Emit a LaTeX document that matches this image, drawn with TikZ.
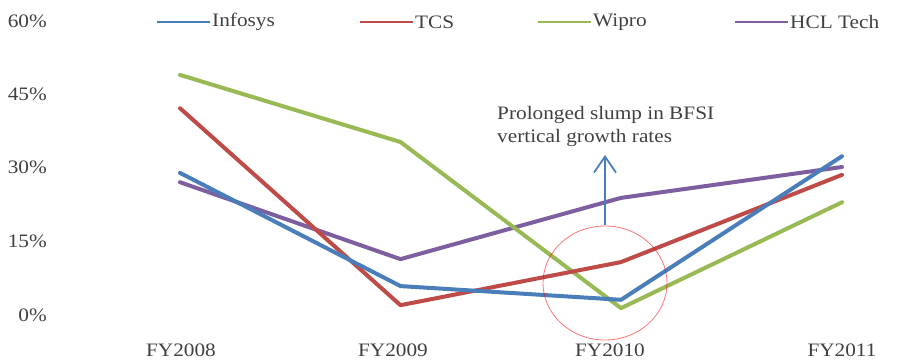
\documentclass[tikz,border=0pt]{standalone}
\usepackage{fontspec}
\setmainfont[FakeStretch=1.12]{Liberation Serif}
\usetikzlibrary{arrows.meta}
\definecolor{txt}{HTML}{404040}
\definecolor{cinf}{HTML}{4A7EBB}
\definecolor{ctcs}{HTML}{BE4B48}
\definecolor{cwip}{HTML}{98B954}
\definecolor{chcl}{HTML}{7D5FA0}
\tikzset{
  series/.style={line width=4pt, line join=round, line cap=round},
  legline/.style={line width=2.6pt},
  lbl/.style={text=txt, font=\fontsize{19}{22}\selectfont, inner sep=0pt},
  ylbl/.style={lbl, anchor=east},
  xlbl/.style={lbl, anchor=center},
}
\begin{document}
\begin{tikzpicture}[x=1pt,y=-1pt]
\useasboundingbox (0,0) rectangle (898,363);
% y axis labels
\node[ylbl] (y60) at (47,21) {60\%};
\node[ylbl] (y45) at (47,94) {45\%};
\node[ylbl] (y30) at (47,167) {30\%};
\node[ylbl] (y15) at (47,241) {15\%};
\node[ylbl] (y0) at (47,315) {0\%};
% x axis labels
\node[xlbl] (x8) at (181,350) {FY2008};
\node[xlbl] (x9) at (393,350) {FY2009};
\node[xlbl] (x10) at (610,350) {FY2010};
\node[xlbl] (x11) at (842,350) {FY2011};
% data points
\foreach \n/\a/\b/\c/\d in {I/29/5.9/3.1/32.4, T/42.2/2.0/10.8/28.6, W/49/35.3/1.4/23, H/27.1/11.4/23.9/30.2}{
  \coordinate (\n1) at (180,{315-4.9*\a});
  \coordinate (\n2) at (400.5,{315-4.9*\b});
  \coordinate (\n3) at (621,{315-4.9*\c});
  \coordinate (\n4) at (842,{315-4.9*\d});
}
\draw[series, chcl] (H1) -- (H2) -- (H3) -- (H4);
\draw[series, cwip] (W1) -- (W2) -- (W3) -- (W4);
\draw[series, ctcs] (T1) -- (T2) -- (T3) -- (T4);
\draw[series, cinf] (I1) -- (I2) -- (I3) -- (I4);
% legend
\coordinate (l1a) at (157,22); \coordinate (l1b) at (210,22);
\draw[legline, cinf] (l1a) -- (l1b);
\node[lbl, anchor=west] (leg1) at (212,22) {Infosys};
\coordinate (l2a) at (360,22); \coordinate (l2b) at (413,22);
\draw[legline, ctcs] (l2a) -- (l2b);
\node[lbl, anchor=west] (leg2) at (415,22) {TCS};
\coordinate (l3a) at (538,22); \coordinate (l3b) at (591,22);
\draw[legline, cwip] (l3a) -- (l3b);
\node[lbl, anchor=west] (leg3) at (593,22) {Wipro};
\coordinate (l4a) at (735,22); \coordinate (l4b) at (788,22);
\draw[legline, chcl] (l4a) -- (l4b);
\node[lbl, anchor=west] (leg4) at (790,22) {HCL Tech};
% annotation
\node[lbl, anchor=north west, align=left, font=\fontsize{19}{23}\selectfont] (note) at (497,106) {Prolonged slump in BFSI\\vertical growth rates};
\draw[red, opacity=0.55, line width=0.8pt] (605,283) ellipse [x radius=62pt, y radius=57pt];
\coordinate (arrS) at (605,225);
\coordinate (arrE) at (605,155);
\draw[cinf, line width=1.8pt, -{Straight Barb[length=16pt,width=22pt,line width=1.8pt]}] (arrS) -- (arrE);
\end{tikzpicture}
\end{document}
